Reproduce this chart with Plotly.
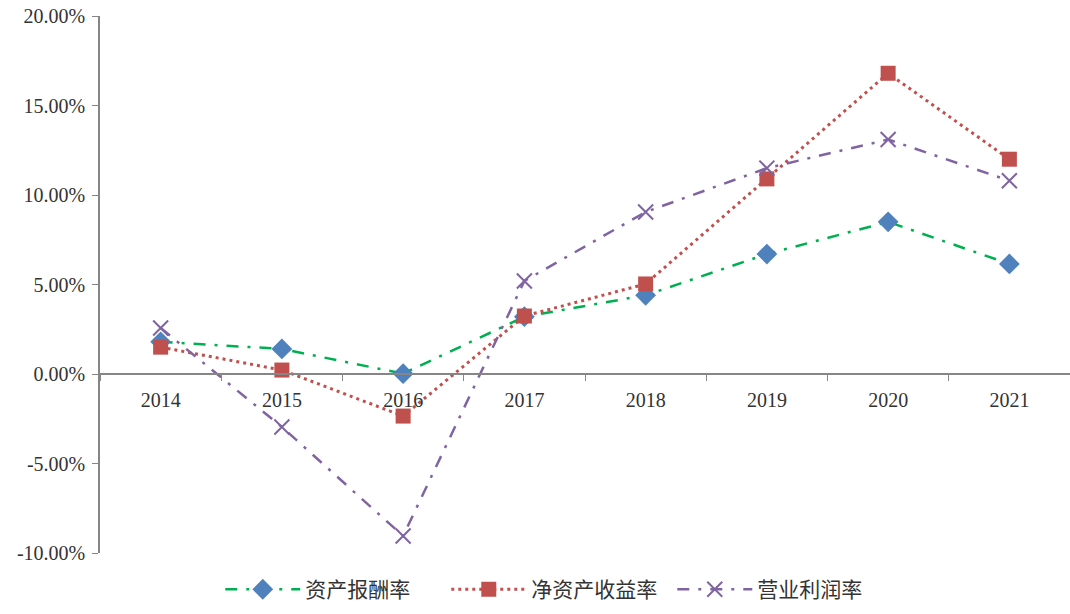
import plotly.graph_objects as go

years = ["2014", "2015", "2016", "2017", "2018", "2019", "2020", "2021"]
roa = [1.8, 1.4, 0.02, 3.2, 4.4, 6.7, 8.5, 6.15]
roe = [1.5, 0.22, -2.35, 3.24, 5.03, 10.9, 16.8, 12.0]
opm = [2.57, -2.96, -9.05, 5.2, 9.05, 11.5, 13.1, 10.8]
names = ["资产报酬率", "净资产收益率", "营业利润率"]
yticks = [-10, -5, 0, 5, 10, 15, 20]

font_main = "Liberation Serif, Noto Sans CJK SC"
dashdot_pat = "12px,9px,3px,9px"

fig = go.Figure()
fig.add_trace(go.Scatter(
    x=years, y=roa, name=names[0], mode="lines+markers",
    line=dict(color="#00B050", width=2.5, dash=dashdot_pat),
    marker=dict(symbol="diamond", size=16, color="#4F81BD"),
))
fig.add_trace(go.Scatter(
    x=years, y=roe, name=names[1], mode="lines+markers",
    line=dict(color="#C0504D", width=3, dash="3px,4px"),
    marker=dict(symbol="square", size=15, color="#C0504D"),
))
fig.add_trace(go.Scatter(
    x=years, y=opm, name=names[2], mode="lines+markers",
    line=dict(color="#8064A2", width=2.5, dash=dashdot_pat),
    marker=dict(symbol="x-thin", size=15, color="#8064A2",
                line=dict(color="#8064A2", width=2)),
))

fig.update_layout(
    width=1070, height=614,
    margin=dict(l=100, r=0, t=16, b=61),
    plot_bgcolor="white", paper_bgcolor="white",
    font=dict(family=font_main, size=20, color="#333333"),
    showlegend=True,
    legend=dict(orientation="h", x=0.124, xanchor="left", y=-0.03,
                yanchor="top", font=dict(size=21, color="#333333"),
                itemwidth=75, entrywidth=136, tracegroupgap=0),
    xaxis=dict(
        type="category", anchor="free", position=1/3,
        showline=True, linecolor="#868686", linewidth=1.5,
        ticks="outside", tickson="boundaries", ticklen=6,
        tickcolor="#868686", showgrid=False, zeroline=False,
        tickfont=dict(size=20, color="#333333"),
        ticklabelstandoff=8,
        range=[-0.5, 7.5],
    ),
    yaxis=dict(
        range=[-10, 20], tickvals=yticks,
        ticktext=[f"{v:.2f}%" for v in yticks],
        showline=True, linecolor="#868686", linewidth=1.5,
        ticks="outside", ticklen=6, tickcolor="#868686",
        showgrid=False, zeroline=False, ticklabelstandoff=3,
        tickfont=dict(size=20, color="#333333"),
    ),
)

fig.write_html("out.html")
